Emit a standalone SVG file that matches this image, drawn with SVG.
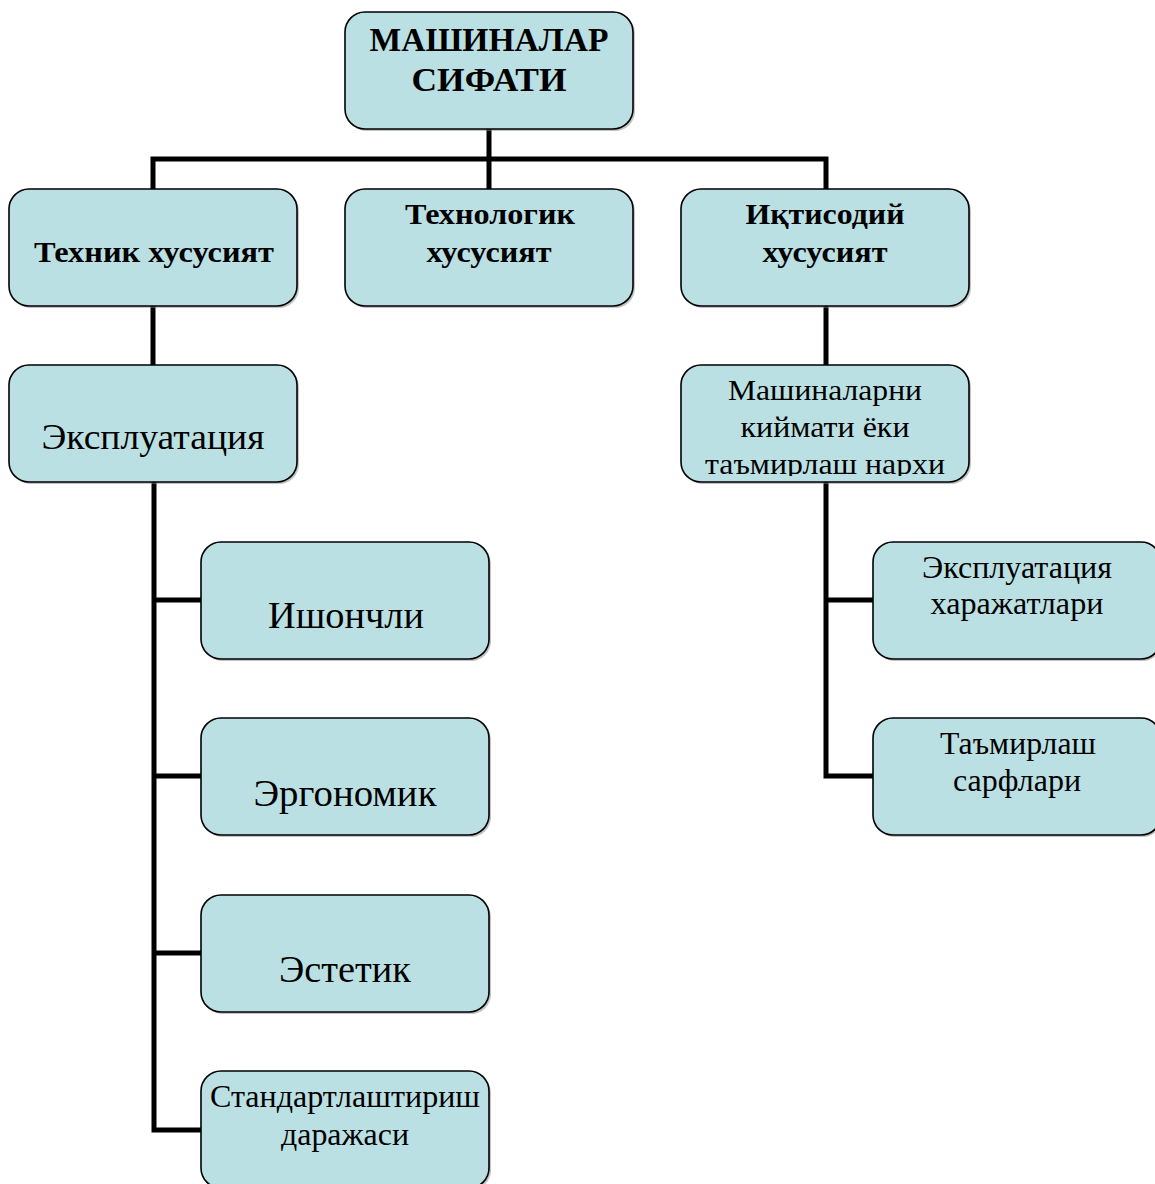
<svg xmlns="http://www.w3.org/2000/svg" width="1155" height="1184" viewBox="0 0 1155 1184">
<defs>
<style>
.box{fill:#BBE0E3;stroke:#000;stroke-width:1.6}
.sh{fill:#888;opacity:0.5}
.t{font-family:"Liberation Serif","Times New Roman",serif;fill:#000;text-anchor:middle}
.b{font-weight:bold}
.c{fill:none;stroke:#000;stroke-width:5;stroke-linecap:square;stroke-linejoin:miter}
</style>
<clipPath id="clipM"><rect x="682" y="366" width="286" height="110"/></clipPath>
</defs>
<rect width="1155" height="1184" fill="#fff"/>
<g id="connectors">
<path class="c" d="M489,129 V189 M153,189 V159 H826 V189"/>
<path class="c" d="M153,306 V365"/>
<path class="c" d="M154,482 V1130 H201 M154,600 H201 M154,776 H201 M154,953 H201"/>
<path class="c" d="M826,306 V365"/>
<path class="c" d="M826,482 V776 H873 M826,600 H873"/>
</g>
<g id="n-top">
<rect class="sh" x="347" y="14" width="288" height="117" rx="20"/>
<rect class="box" x="345" y="12" width="288" height="117" rx="20"/>
<text class="t b" x="489" y="51" font-size="33" textLength="239" lengthAdjust="spacingAndGlyphs">МАШИНАЛАР</text>
<text class="t b" x="489" y="91" font-size="33" textLength="155" lengthAdjust="spacingAndGlyphs">СИФАТИ</text>
</g>
<g id="n-tech">
<rect class="sh" x="11" y="191" width="288" height="117" rx="20"/>
<rect class="box" x="9" y="189" width="288" height="117" rx="20"/>
<text class="t b" x="154" y="262" font-size="30" textLength="240" lengthAdjust="spacingAndGlyphs">Техник хусусият</text>
</g>
<g id="n-technolog">
<rect class="sh" x="347" y="191" width="288" height="117" rx="20"/>
<rect class="box" x="345" y="189" width="288" height="117" rx="20"/>
<text class="t b" x="490" y="224" font-size="30" textLength="170" lengthAdjust="spacingAndGlyphs">Технологик</text>
<text class="t b" x="489" y="262" font-size="30" textLength="125" lengthAdjust="spacingAndGlyphs">хусусият</text>
</g>
<g id="n-iqt">
<rect class="sh" x="683" y="191" width="288" height="117" rx="20"/>
<rect class="box" x="681" y="189" width="288" height="117" rx="20"/>
<text class="t b" x="825" y="224" font-size="30" textLength="159" lengthAdjust="spacingAndGlyphs">Иқтисодий</text>
<text class="t b" x="825" y="262" font-size="30" textLength="125" lengthAdjust="spacingAndGlyphs">хусусият</text>
</g>
<g id="n-expl">
<rect class="sh" x="11" y="367" width="288" height="117" rx="20"/>
<rect class="box" x="9" y="365" width="288" height="117" rx="20"/>
<text class="t" x="153" y="449" font-size="36" textLength="223" lengthAdjust="spacingAndGlyphs">Эксплуатация</text>
</g>
<g id="n-mash">
<rect class="sh" x="683" y="367" width="288" height="117" rx="20"/>
<rect class="box" x="681" y="365" width="288" height="117" rx="20"/>
<g clip-path="url(#clipM)">
<text class="t" x="825" y="400" font-size="30" textLength="194" lengthAdjust="spacingAndGlyphs">Машиналарни</text>
<text class="t" x="825" y="437" font-size="30" textLength="169" lengthAdjust="spacingAndGlyphs">киймати ёки</text>
<text class="t" x="825" y="474" font-size="30" textLength="240" lengthAdjust="spacingAndGlyphs">таъмирлаш нархи</text>
</g>
</g>
<g id="n-ish">
<rect class="sh" x="203" y="544" width="288" height="117" rx="20"/>
<rect class="box" x="201" y="542" width="288" height="117" rx="20"/>
<text class="t" x="346" y="628" font-size="38" textLength="156" lengthAdjust="spacingAndGlyphs">Ишончли</text>
</g>
<g id="n-erg">
<rect class="sh" x="203" y="720" width="288" height="117" rx="20"/>
<rect class="box" x="201" y="718" width="288" height="117" rx="20"/>
<text class="t" x="345" y="806" font-size="38" textLength="183" lengthAdjust="spacingAndGlyphs">Эргономик</text>
</g>
<g id="n-est">
<rect class="sh" x="203" y="897" width="288" height="117" rx="20"/>
<rect class="box" x="201" y="895" width="288" height="117" rx="20"/>
<text class="t" x="345" y="982" font-size="38" textLength="132" lengthAdjust="spacingAndGlyphs">Эстетик</text>
</g>
<g id="n-std">
<rect class="sh" x="203" y="1073" width="288" height="117" rx="20"/>
<rect class="box" x="201" y="1071" width="288" height="117" rx="20"/>
<text class="t" x="345" y="1107" font-size="31" textLength="270" lengthAdjust="spacingAndGlyphs">Стандартлаштириш</text>
<text class="t" x="345" y="1145" font-size="31" textLength="128" lengthAdjust="spacingAndGlyphs">даражаси</text>
</g>
<g id="n-exh">
<rect class="sh" x="875" y="544" width="288" height="117" rx="20"/>
<rect class="box" x="873" y="542" width="288" height="117" rx="20"/>
<text class="t" x="1017" y="578" font-size="31" textLength="190" lengthAdjust="spacingAndGlyphs">Эксплуатация</text>
<text class="t" x="1017" y="614" font-size="31" textLength="173" lengthAdjust="spacingAndGlyphs">харажатлари</text>
</g>
<g id="n-tam">
<rect class="sh" x="875" y="720" width="288" height="117" rx="20"/>
<rect class="box" x="873" y="718" width="288" height="117" rx="20"/>
<text class="t" x="1018" y="754" font-size="31" textLength="156" lengthAdjust="spacingAndGlyphs">Таъмирлаш</text>
<text class="t" x="1017" y="791" font-size="31" textLength="128" lengthAdjust="spacingAndGlyphs">сарфлари</text>
</g>
</svg>
